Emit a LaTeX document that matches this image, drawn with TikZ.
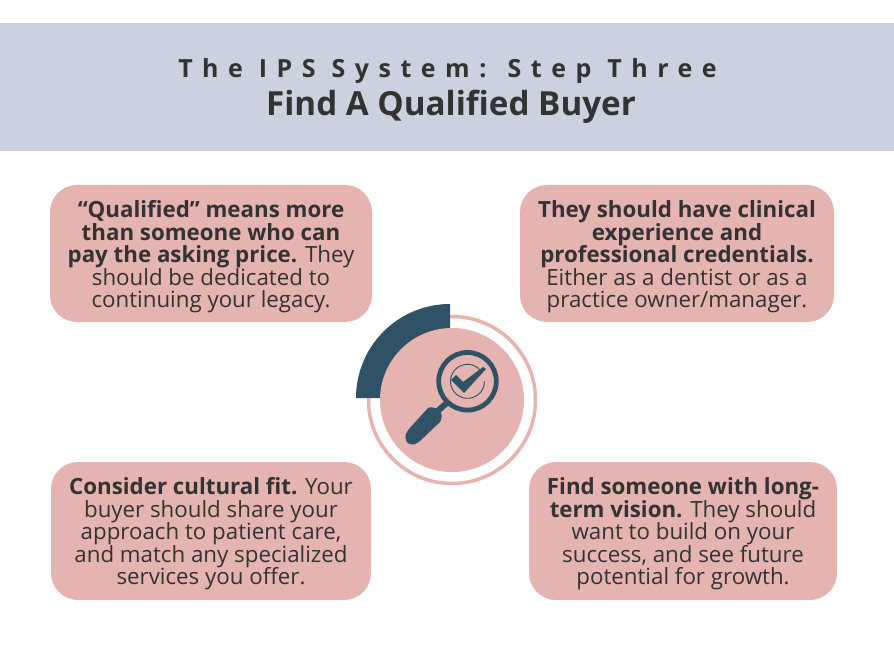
\documentclass[tikz,border=0pt]{standalone}
\usepackage{fontspec}
\setmainfont{Open Sans}
\definecolor{band}{HTML}{CCD1DF}
\definecolor{rosy}{HTML}{E5B3B0}
\definecolor{navy}{HTML}{2F5266}
\definecolor{ink}{HTML}{333333}
\tikzset{x=1pt,y=-1pt,
 card/.style={fill=rosy,rounded corners=27pt},
 cardtext/.style={text=ink,align=center,inner sep=0pt,font=\fontsize{22.3}{22.5}\selectfont},
}
\begin{document}
\begin{tikzpicture}
\useasboundingbox (0,0) rectangle (894,660);
\fill[white] (0,0) rectangle (894,660);
\fill[band] (0,23) rectangle (894,151);
\node[text=ink,inner sep=0pt,font=\fontsize{25}{28}\selectfont\bfseries] (kicker) at (447.5,71) {\addfontfeatures{LetterSpace=38}The IPS System: Step Three};
\node[text=ink,inner sep=0pt,font=\fontsize{33.2}{38}\selectfont\bfseries] (title) at (451,107) {Find A Qualified Buyer};
\fill[card] (50,185) rectangle (372,322);
\fill[card] (520,185) rectangle (834,322);
\fill[card] (51,462) rectangle (371,600);
\fill[card] (529,462) rectangle (837,600);
\node[cardtext] (a) at (211,257) {\textbf{“Qualified” means more}\\\textbf{than someone who can}\\\textbf{pay the asking price.} They\\should be dedicated to\\continuing your legacy.};
\node[cardtext] (b) at (677,257) {\textbf{They should have clinical}\\\textbf{experience and}\\\textbf{professional credentials.}\\Either as a dentist or as a\\practice owner/manager.};
\node[cardtext] (c) at (211,534) {\textbf{Consider cultural fit.} Your\\buyer should share your\\approach to patient care,\\and match any specialized\\services you offer.};
\node[cardtext] (d) at (683,534) {\textbf{Find someone with long-}\\\textbf{term vision.} They should\\want to build on your\\success, and see future\\potential for growth.};
% centre graphic
\draw[rosy,line width=3.5pt] (452,400) circle [radius=83.5];
\fill[navy] (450,398) -- (356,398) arc [start angle=180,end angle=270,radius=94] -- (450,328) -- cycle;
\fill[rosy] (452,400) circle [radius=72];
% magnifier
\draw[navy,line width=4.8pt] (467.5,381.3) circle [radius=28.8];
\draw[navy,line width=0.9pt] (480.5,370.4) arc [start angle=-40,end angle=-360,radius=17];
\draw[navy,line width=6pt] (448,402) -- (432,416);
\fill[navy,rounded corners=1.5pt] (429,407) -- (436,408) -- (442,414) -- (441,421) -- (419,442) -- (413,445) -- (407,443) -- (405,436) -- (408,430) -- cycle;
\fill[navy] (451,380) -- (456,375) -- (463,382) -- (483,367) -- (486,369) -- (464,393) -- cycle;
\end{tikzpicture}
\end{document}
